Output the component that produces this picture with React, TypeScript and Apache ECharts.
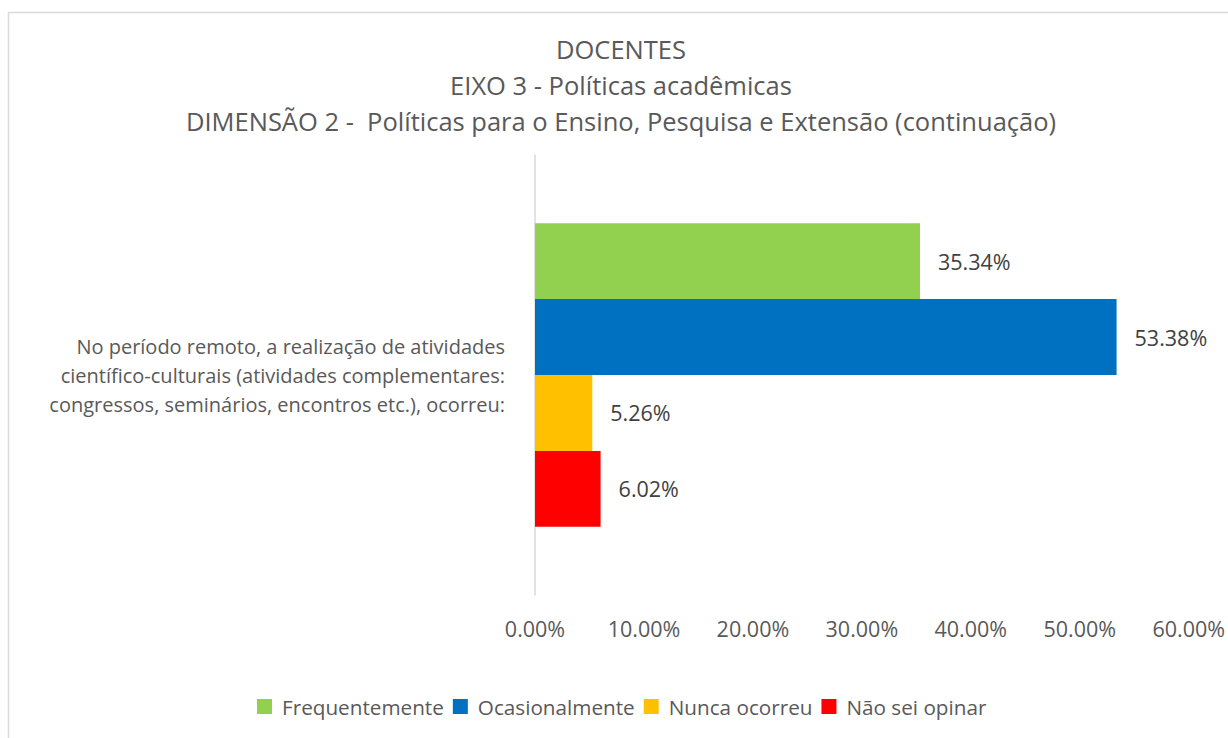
import React, { useEffect, useRef } from "react";
import * as echarts from "echarts";

const titleLines = [
  "DOCENTES",
  "EIXO 3 - Políticas acadêmicas",
  "DIMENSÃO 2 -  Políticas para o Ensino, Pesquisa e Extensão (continuação)",
];
const categories = [
  "No período remoto, a realização de atividades\ncientífico-culturais (atividades complementares:\ncongressos, seminários, encontros etc.), ocorreu:",
];
const seriesNames = ["Frequentemente", "Ocasionalmente", "Nunca ocorreu", "Não sei opinar"];
const seriesColors = ["#92D050", "#0070C0", "#FFC000", "#FF0000"];
const frequentemente = [35.34];
const ocasionalmente = [53.38];
const nuncaOcorreu = [5.26];
const naoSeiOpinar = [6.02];
const xMin = 0;
const xMax = 60;
const xInterval = 10;

const FONT = "Open Sans";

export default function App() {
  const ref = useRef<HTMLDivElement>(null);
  useEffect(() => {
    const chart = echarts.init(ref.current!, null, { renderer: "svg" });
    const values = [frequentemente, ocasionalmente, nuncaOcorreu, naoSeiOpinar];
    chart.setOption({
      animation: false,
      backgroundColor: "#ffffff",
      textStyle: { fontFamily: FONT },
      graphic: [
        {
          type: "rect",
          shape: { x: 8.5, y: 12.5, width: 1300, height: 800 },
          style: { fill: "none", stroke: "#D9D9D9", lineWidth: 1.5 },
          silent: true,
        },
      ],
      title: titleLines.map((t, i) => ({
        text: t,
        left: 621,
        textAlign: "center",
        top: 31 + i * 36,
        padding: 0,
        textStyle: {
          fontFamily: FONT,
          fontSize: 25.5,
          fontWeight: "normal",
          color: "#595959",
          lineHeight: 36,
        },
      })),
      legend: {
        data: seriesNames,
        bottom: 16,
        left: 252,
        icon: "rect",
        itemWidth: 15,
        itemHeight: 15,
        itemGap: 9,
        textStyle: { fontFamily: FONT, fontSize: 20.7, color: "#595959", padding: [0, 0, 0, 5] },
      },
      grid: { left: 535, right: 35, top: 155, bottom: 143, containLabel: false },
      xAxis: {
        type: "value",
        min: xMin,
        max: xMax,
        interval: xInterval,
        axisLine: { show: false },
        axisTick: { show: false },
        splitLine: { show: false },
        axisLabel: {
          fontFamily: FONT,
          fontSize: 21.5,
          color: "#595959",
          margin: 22,
          formatter: (v: number) => v.toFixed(2) + "%",
        },
      },
      yAxis: {
        type: "category",
        data: categories,
        inverse: true,
        axisLine: { show: true, lineStyle: { color: "#D9D9D9", width: 1.5 } },
        axisTick: { show: false },
        axisLabel: {
          fontFamily: FONT,
          fontSize: 20,
          color: "#595959",
          margin: 30,
          lineHeight: 29,
          align: "right",
        },
      },
      series: seriesNames.map((name, i) => ({
        name,
        type: "bar",
        data: values[i],
        barGap: "0%",
        barCategoryGap: "31%",
        itemStyle: { color: seriesColors[i] },
        label: {
          show: true,
          position: "right",
          distance: 18,
          fontFamily: FONT,
          fontSize: 21.5,
          color: "#404040",
          formatter: (p: any) => Number(p.value).toFixed(2) + "%",
        },
      })),
    });
    return () => chart.dispose();
  }, []);
  return (
    <div
      ref={ref}
      style={{ position: "fixed", left: 0, top: 0, width: 1228, height: 738 }}
    />
  );
}
